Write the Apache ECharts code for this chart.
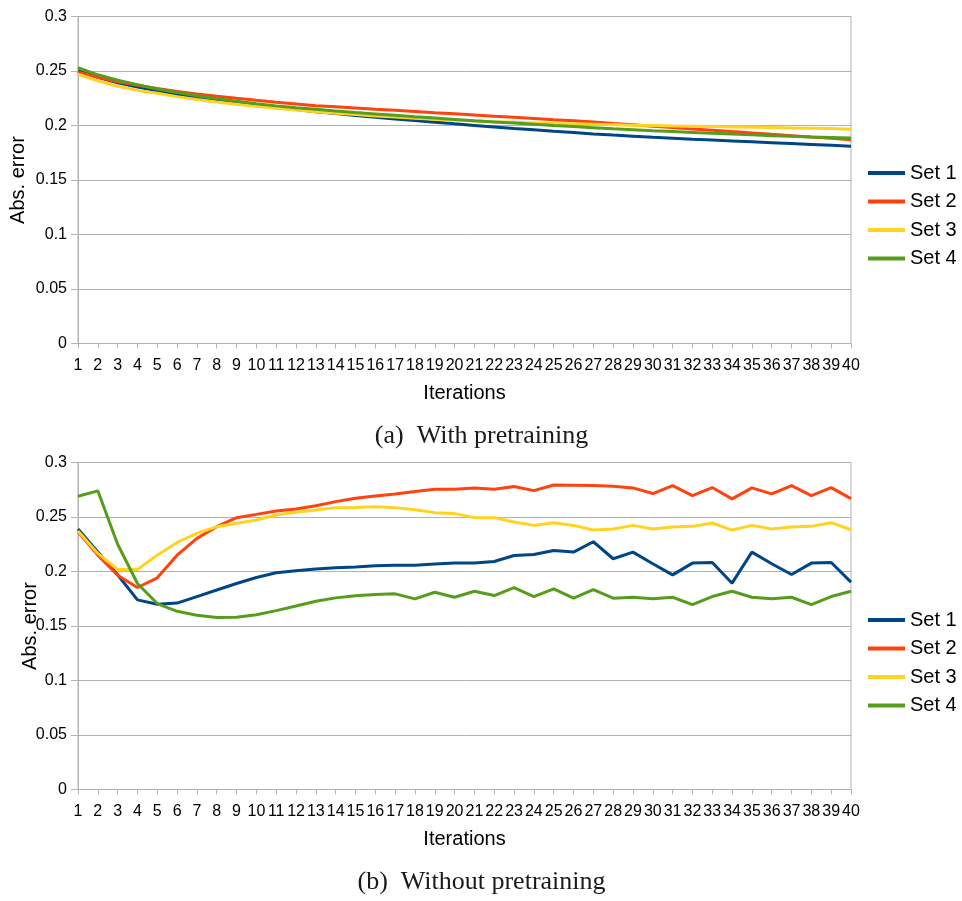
<!DOCTYPE html>
<html>
<head>
<meta charset="utf-8">
<title>Abs. error vs iterations</title>
<script src="https://cdn.jsdelivr.net/npm/echarts@6/dist/echarts.min.js"></script>
<style>
  html, body { margin: 0; padding: 0; background: #ffffff; }
  #chart { width: 962px; height: 901px; }
</style>
</head>
<body>
<div id="chart"></div>
<script>
// Iteration numbers shown on both x axes
const iterations = ['1','2','3','4','5','6','7','8','9','10','11','12','13','14','15','16','17','18','19','20',
  '21','22','23','24','25','26','27','28','29','30','31','32','33','34','35','36','37','38','39','40'];

const seriesNames = ['Set 1', 'Set 2', 'Set 3', 'Set 4'];
const yTicks = { min: 0, max: 0.3, step: 0.05 };

// (a) With pretraining
const preSet1 = [0.250,0.2443,0.2392,0.2352,0.2318,0.2287,0.2259,0.2233,0.2209,0.2187,0.2166,0.2146,0.2127,0.2109,0.2092,0.2076,0.2060,0.2045,0.2030,0.2015,
  0.2001,0.1987,0.1973,0.1960,0.1947,0.1935,0.1923,0.1912,0.1902,0.1892,0.1883,0.1874,0.1866,0.1858,0.1850,0.1842,0.1834,0.1826,0.1818,0.1810];
const preSet2 = [0.249,0.2443,0.2402,0.2368,0.2339,0.2313,0.2290,0.2269,0.2249,0.2231,0.2214,0.2198,0.2182,0.2171,0.2160,0.2149,0.2139,0.2128,0.2117,0.2107,
  0.2096,0.2085,0.2075,0.2064,0.2053,0.2043,0.2032,0.2019,0.2007,0.1994,0.1982,0.1969,0.1957,0.1944,0.1932,0.1919,0.1907,0.1894,0.1882,0.1870];
const preSet3 = [0.247,0.2410,0.2360,0.2322,0.2295,0.2265,0.2239,0.2216,0.2195,0.2176,0.2158,0.2142,0.2127,0.2113,0.2100,0.2088,0.2077,0.2067,0.2058,0.2050,
  0.2042,0.2035,0.2029,0.2024,0.2019,0.2015,0.2011,0.2007,0.2003,0.2000,0.1996,0.1993,0.1990,0.1987,0.1984,0.1981,0.1978,0.1975,0.1972,0.1966];
const preSet4 = [0.253,0.2465,0.2415,0.2375,0.2335,0.2303,0.2273,0.2246,0.2222,0.2200,0.2180,0.2163,0.2148,0.2133,0.2119,0.2106,0.2093,0.2080,0.2068,0.2056,
  0.2044,0.2033,0.2022,0.2011,0.2000,0.1990,0.1980,0.1970,0.1961,0.1952,0.1944,0.1936,0.1928,0.1921,0.1914,0.1907,0.1901,0.1895,0.1890,0.1885];

// (b) Without pretraining
const rawSet1 = [0.239,0.218,0.197,0.174,0.170,0.171,0.177,0.183,0.189,0.1945,0.1988,0.2006,0.2024,0.2035,0.2042,0.2052,0.2058,0.2058,0.2068,0.2078,
  0.2077,0.2092,0.2147,0.2156,0.2193,0.2178,0.2273,0.2117,0.2178,0.2071,0.1969,0.2077,0.2083,0.1893,0.2178,0.2071,0.1972,0.2077,0.2083,0.1902];
const rawSet2 = [0.2365,0.215,0.1966,0.1853,0.1942,0.215,0.2304,0.2411,0.2494,0.2524,0.2555,0.2574,0.2604,0.2641,0.2672,0.2693,0.2712,0.2733,0.2755,0.2755,
  0.2767,0.2755,0.2779,0.2742,0.2794,0.2791,0.2788,0.2782,0.2767,0.2715,0.2788,0.2696,0.2770,0.2666,0.2767,0.2712,0.2788,0.2696,0.2770,0.2669];
const rawSet3 = [0.2371,0.2166,0.2018,0.2018,0.215,0.2267,0.235,0.2411,0.2442,0.2472,0.2518,0.2543,0.2564,0.2586,0.2588,0.2595,0.2586,0.2567,0.254,0.2531,
  0.2494,0.2494,0.2454,0.2423,0.2448,0.2423,0.238,0.239,0.2423,0.239,0.2408,0.2414,0.2445,0.238,0.2423,0.239,0.2408,0.2414,0.2448,0.2383];
const rawSet4 = [0.269,0.274,0.225,0.189,0.1706,0.1635,0.1598,0.1577,0.158,0.1604,0.1641,0.1684,0.1727,0.1758,0.1778,0.1788,0.1795,0.1749,0.181,0.1764,
  0.1819,0.1779,0.1853,0.177,0.1841,0.1755,0.1834,0.1755,0.1764,0.1749,0.1764,0.1696,0.177,0.1819,0.1764,0.1749,0.1764,0.1696,0.177,0.1819];

const captions = ['(a)  With pretraining', '(b)  Without pretraining'];

const palette = ['#004586', '#ff420e', '#ffd320', '#579d1c'];
const sans = '"Liberation Sans", Arial, sans-serif';
const serifFont = '26px "Liberation Serif", "Times New Roman", serif';
const gridGray = '#b3b3b3';

function makeGrid(top) {
  return { left: 78, top: top, width: 773, height: 327, show: true, borderColor: gridGray, borderWidth: 1, backgroundColor: 'transparent' };
}

function makeXAxis(gridIndex) {
  return {
    gridIndex: gridIndex,
    type: 'category',
    data: iterations,
    boundaryGap: false,
    name: 'Iterations',
    nameLocation: 'middle',
    nameGap: 40,
    nameMoveOverlap: false,
    nameTextStyle: { fontFamily: sans, fontSize: 20, color: '#000' },
    axisLine: { show: true, lineStyle: { color: gridGray, width: 1 } },
    axisTick: { show: true, interval: 0, length: 5, lineStyle: { color: gridGray } },
    axisLabel: { interval: 0, fontFamily: sans, fontSize: 16, color: '#000', margin: 14 },
    splitLine: { show: false }
  };
}

function makeYAxis(gridIndex, nameGap) {
  return {
    gridIndex: gridIndex,
    type: 'value',
    min: yTicks.min,
    max: yTicks.max,
    interval: yTicks.step,
    name: 'Abs. error',
    nameLocation: 'middle',
    nameRotate: 90,
    nameGap: nameGap,
    nameMoveOverlap: false,
    nameTextStyle: { fontFamily: sans, fontSize: 20, color: '#000' },
    axisLine: { show: true, lineStyle: { color: gridGray, width: 1 } },
    axisTick: { show: true, length: 7, lineStyle: { color: gridGray } },
    axisLabel: { fontFamily: sans, fontSize: 16, color: '#000', margin: 11 },
    splitLine: { show: true, lineStyle: { color: gridGray, width: 1 } }
  };
}

function makeLegend(top) {
  return {
    orient: 'vertical',
    left: 863,
    top: top,
    icon: 'rect',
    itemWidth: 37,
    itemHeight: 4,
    itemGap: 8.5,
    data: seriesNames,
    textStyle: { fontFamily: sans, fontSize: 20, color: '#000', lineHeight: 20 },
    selectedMode: false
  };
}

function makeSeries(values, idx, axisIndex) {
  return {
    name: seriesNames[idx],
    type: 'line',
    xAxisIndex: axisIndex,
    yAxisIndex: axisIndex,
    data: values,
    showSymbol: false,
    symbol: 'none',
    smooth: false,
    lineStyle: { color: palette[idx], width: 3 },
    itemStyle: { color: palette[idx] },
    emphasis: { disabled: true }
  };
}

const chart = echarts.init(document.getElementById('chart'), null, { renderer: 'canvas' });

chart.setOption({
  animation: false,
  backgroundColor: '#ffffff',
  color: palette,
  grid: [makeGrid(16.5), makeGrid(462.5)],
  xAxis: [makeXAxis(0), makeXAxis(1)],
  yAxis: [makeYAxis(0, 50), makeYAxis(1, 38)],
  legend: [makeLegend(158), makeLegend(605)],
  series: [
    makeSeries(preSet1, 0, 0), makeSeries(preSet2, 1, 0), makeSeries(preSet3, 2, 0), makeSeries(preSet4, 3, 0),
    makeSeries(rawSet1, 0, 1), makeSeries(rawSet2, 1, 1), makeSeries(rawSet3, 2, 1), makeSeries(rawSet4, 3, 1)
  ],
  graphic: [
    { type: 'text', x: 481.5, y: 436, style: { text: captions[0], font: serifFont, fill: '#1a1a1a', align: 'center', verticalAlign: 'middle' } },
    { type: 'text', x: 481.5, y: 882, style: { text: captions[1], font: serifFont, fill: '#1a1a1a', align: 'center', verticalAlign: 'middle' } }
  ]
});
</script>
</body>
</html>
